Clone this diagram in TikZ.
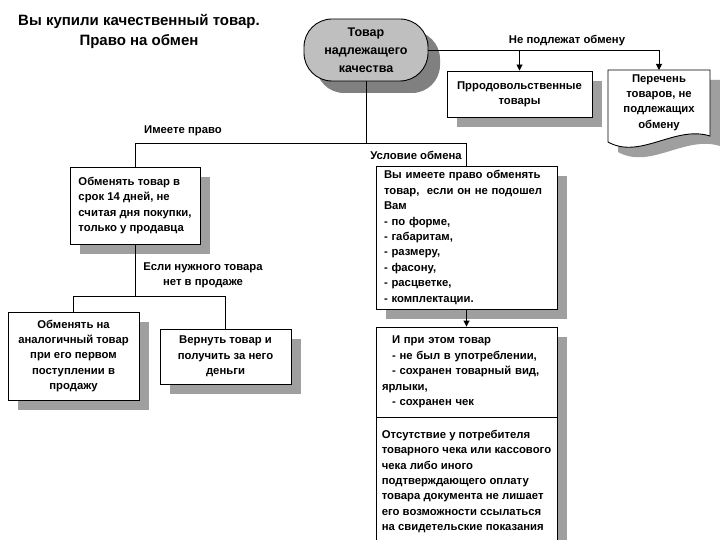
\documentclass[tikz,border=0pt]{standalone}
\usepackage{fontspec}
\setmainfont{Liberation Sans}
\usetikzlibrary{shadows,arrows.meta}
\begin{document}
\begin{tikzpicture}[x=1pt,y=-1pt,
  txt/.style={font=\fontsize{11.3}{15.4}\selectfont\bfseries},
  shad/.style={drop shadow={shadow xshift=10pt, shadow yshift=-10pt, fill=gray!75, opacity=1}},
  box/.style={txt, draw, line width=0.9pt, fill=white, inner sep=0pt, shad},
  lbl/.style={txt, align=center, inner sep=0pt},
  conn/.style={line width=0.9pt},
  arr/.style={conn, -{Triangle[length=6pt,width=6pt]}}
]
\clip (0,0) rectangle (720,540);
\fill[white] (0,0) rectangle (720,540);

% title
\node[lbl, font=\fontsize{15}{20}\selectfont\bfseries] (title) at (139,31)
  {Вы купили качественный товар.\\Право на обмен};

% oval
\node[draw, line width=0.9pt, fill=gray!50, rounded corners=28pt, minimum width=124pt, minimum height=62pt,
  align=center, inner sep=0pt, font=\fontsize{12.5}{18}\selectfont\bfseries,
  drop shadow={shadow xshift=12pt, shadow yshift=-12pt, fill=gray, opacity=1}] (oval) at (366,50)
  {Товар\\надлежащего\\качества};

% food products
\node[box, minimum width=145pt, minimum height=46pt, align=center] (prod) at (519.5,94)
  {Прродовольственные\\товары};

% document
\fill[gray!75] (618,80) -- (720,80) -- (720,146) .. controls (685,135) and (650,170) .. (618,152) -- cycle;
\draw[line width=0.9pt, fill=white] (608,70) -- (710,70) -- (710,136) .. controls (675,125) and (640,160) .. (608,142) -- cycle;
\node[lbl, align=center] (perech) at (659,102.5) {Перечень\\товаров, не\\подлежащих\\обмену};

% left box
\node[box, minimum width=130pt, minimum height=77pt, align=left] (left) at (135,205.5)
  {Обменять товар в\\срок 14 дней, не\\считая дня покупки,\\только у продавца};

% big box
\node[box, text width=165pt, inner xsep=8pt, minimum height=143pt, align=left] (big) at (466.5,237.5)
  {Вы имеете право обменять\\товар,\ \ если он не подошел\\Вам\\- по форме,\\- габаритам,\\- размеру,\\- фасону,\\- расцветке,\\- комплектации.};

% bottom-left boxes
\node[box, minimum width=131pt, minimum height=88pt, align=center] (b6) at (73.5,356)
  {Обменять на\\аналогичный товар\\при его первом\\поступлении в\\продажу};
\node[box, minimum width=131pt, minimum height=55pt, align=center] (b7) at (225.5,356.5)
  {Вернуть товар и\\получить за него\\деньги};

% right column
\node[box, text width=169pt, inner xsep=6pt, minimum height=90pt, align=left] (b8) at (466.5,372)
  {\hspace*{10pt}И при этом товар\\\hspace*{10pt}- не был в употреблении,\\\hspace*{10pt}- сохранен товарный вид,\\ярлыки,\\\hspace*{10pt}- сохранен чек};
\node[box, minimum width=181pt, minimum height=128pt, align=left, anchor=north] (b9) at (466.5,417)
  {Отсутствие у потребителя\\товарного чека или кассового\\чека либо иного\\подтверждающего оплату\\товара документа не лишает\\его возможности ссылаться\\на свидетельские показания};

% labels
\node[lbl] (l1) at (567,41) {Не подлежат обмену};
\node[lbl] (l2) at (183,131) {Имеете право};
\node[lbl] (l3) at (416,155) {Условие обмена};
\node[lbl] (l4) at (203,275) {Если нужного товара\\нет в продаже};

% connectors
\coordinate (jr) at (perech.north |- oval.east);
\draw[conn] (oval.east) -- (jr);
\draw[arr] (jr) -- (perech.north |- 0,70);
\draw[arr] (prod.north |- oval.east) -- (prod.north);

\coordinate (t1) at (0,143);
\draw[conn] (oval.south) -- (oval.south |- t1);
\draw[conn] (left.north) -- (left.north |- t1) -- (big.north |- t1) -- (big.north);

\coordinate (t2) at (0,296);
\draw[conn] (left.south) -- (left.south |- t2);
\draw[conn] (b6.north) -- (b6.north |- t2) -- (b7.north |- t2) -- (b7.north);

\draw[arr] (big.south) -- (b8.north);
\end{tikzpicture}
\end{document}
